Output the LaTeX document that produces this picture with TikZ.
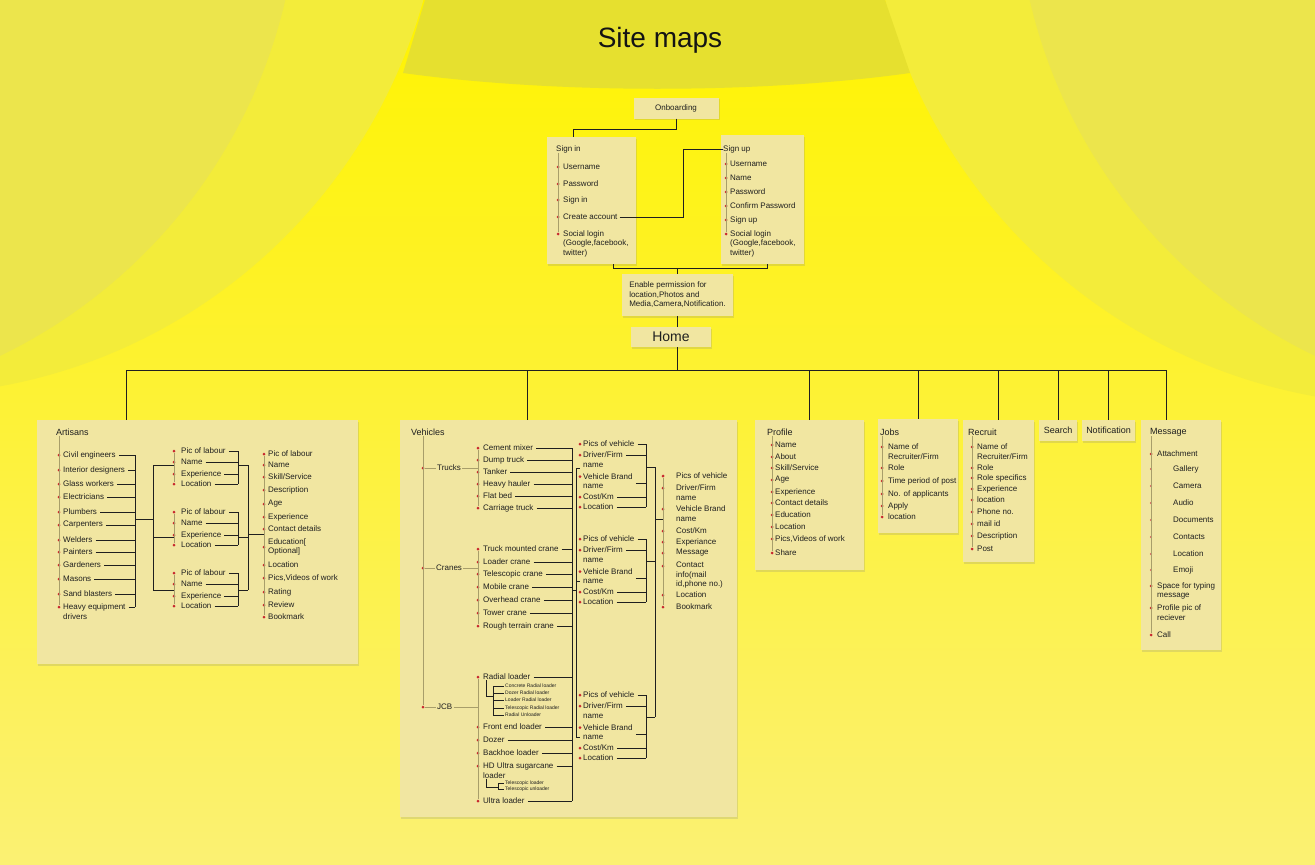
\documentclass[tikz,border=0pt]{standalone}
\usepackage{fontspec}
\setmainfont{Liberation Sans}
\usetikzlibrary{positioning,shadows}
\definecolor{ylwtop}{HTML}{FFF300}
\definecolor{ylwbot}{HTML}{FBF173}
\definecolor{arcout}{HTML}{F3EC3A}
\definecolor{arcin}{HTML}{ECE54C}
\definecolor{banner}{HTML}{E6E02F}
\definecolor{cardc}{HTML}{F1E6A1}
\definecolor{inkc}{HTML}{1F1F1F}
\definecolor{dotc}{HTML}{C8282E}
\definecolor{railc}{HTML}{A89E6A}

\begin{document}
\begin{tikzpicture}[x=1pt, y=-1pt,
    card/.style={fill=cardc, drop shadow={shadow xshift=1pt, shadow yshift=-1.5pt, opacity=.22}, inner sep=0pt, text=inkc},
    itm/.style={font=\fontsize{8}{9.5}\selectfont, text=inkc, inner sep=0pt, anchor=west, align=left},
    tiny/.style={font=\fontsize{5}{6}\selectfont, text=inkc, inner sep=0pt, anchor=west},
    hd/.style={font=\fontsize{9}{11}\selectfont, text=inkc, inner sep=0pt, anchor=west},
    dot/.style={circle, fill=dotc, inner sep=0pt, minimum size=3pt},
    sdot/.style={circle, fill=dotc!80, inner sep=0pt, minimum size=2.2pt},
    link/.style={draw=inkc, line width=0.9pt},
    subl/.style={draw=inkc, line width=0.6pt},
    rail/.style={draw=railc, line width=0.5pt}]

    % background
    \useasboundingbox (0,0) rectangle (1315,865);
    \shade[top color=ylwtop, bottom color=ylwbot] (0,0) rectangle (1315,865);
    \begin{scope}
        \clip (0,0) rectangle (1315,865);
        \fill[arcout] (-97,-145) circle[radius=540pt];
        \fill[arcin] (-229,-120) circle[radius=528pt];
        \fill[arcout] (1412,-140) circle[radius=545pt];
        \fill[arcin] (1544,-120) circle[radius=528pt];
    \end{scope}
    \fill[banner] (425,0) -- (885,0) -- (910,73) .. controls (760,94) and (555,94) .. (403,73) -- cycle;
    \node[font=\fontsize{28}{32}\selectfont, text=black!92] (title) at (660,40) {Site maps};

    % onboarding
    \node[card, minimum width=85pt, minimum height=21pt, font=\fontsize{8}{9.5}\selectfont] (onb) at (676,108) {Onboarding};
    \node[card, anchor=north west, minimum width=89pt, minimum height=127pt] (sin) at (547,137) {};
    \node[card, anchor=north west, minimum width=83pt, minimum height=129pt] (sup) at (721,135) {};
    \node[itm] (sinh) at (556,149) {Sign in};
    \node[itm] (suph) at (723,149) {Sign up};
    \foreach \n/\y/\cy/\txt in {1/167/167/Username, 2/184/184/Password, 3/200/200/Sign in, 4/217/217/Create account,
        5/234/243.5/{Social login\\(Google,facebook,\\twitter)}} {
        \node[dot] (sid\n) at (558,\y) {};
        \node[itm] (si\n) at (563,\cy) {\txt};
    }
    \draw[rail] (sid1 |- sinh.south) -- (sid5);
    \foreach \n/\y/\cy/\txt in {1/164/164/Username, 2/178/178/Name, 3/192/192/Password, 4/206/206/Confirm Password,
        5/220/220/Sign up, 6/234/243.5/{Social login\\(Google,facebook,\\twitter)}} {
        \node[dot] (sud\n) at (726,\y) {};
        \node[itm] (su\n) at (730,\cy) {\txt};
    }
    \draw[rail] (sud1 |- suph.south) -- (sud6);

    \draw[link] (onb.south) -- ++(0,11) -| ([xshift=26pt]sin.north west);
    \coordinate (cj) at (683,149);
    \draw[link] ([xshift=2pt]si4.east) -| (cj) -- (suph.west);

    \node[card, minimum width=111pt, minimum height=42pt, align=left, font=\fontsize{8}{9.5}\selectfont] (perm) at (677.5,295)
        {Enable permission for\\location,Photos and\\Media,Camera,Notification.};
    \draw[link] ([xshift=66pt]sin.south west) -- ++(0,4) -| ([xshift=46pt]sup.south west);
    \draw[link] (perm.north) -- ++(0,-6);

    \node[card, minimum width=80pt, minimum height=20pt, font=\fontsize{14}{16}\selectfont] (home) at (671,337) {Home};
    \draw[link] (perm.south) -- (perm.south |- home.north);
    \coordinate (hbus) at (677.5,370);
    \draw[link] (perm.south |- home.south) -- (hbus);

    % sections
    \node[card, anchor=north west, minimum width=321pt, minimum height=244pt] (artis) at (37,420) {};
    \node[card, anchor=north west, minimum width=337pt, minimum height=397pt] (vehic) at (400,420) {};
    \node[card, anchor=north west, minimum width=109pt, minimum height=150pt] (prof) at (755,420) {};
    \node[card, anchor=north west, minimum width=80pt, minimum height=114pt] (jobs) at (878,419) {};
    \node[card, anchor=north west, minimum width=71pt, minimum height=142pt] (recr) at (963,420) {};
    \node[card, minimum width=38pt, minimum height=21pt, font=\fontsize{9}{11}\selectfont] (srch) at (1058,430.5) {Search};
    \node[card, minimum width=53pt, minimum height=21pt, font=\fontsize{9}{11}\selectfont] (noti) at (1108.5,430.5) {Notification};
    \node[card, anchor=north west, minimum width=80pt, minimum height=230pt] (msg) at (1141,420) {};

    \coordinate (artdrop) at ([xshift=89pt]artis.north west);
    \coordinate (vehdrop) at ([xshift=127pt]vehic.north west);
    \coordinate (msgdrop) at ([xshift=25pt]msg.north west);
    \draw[link] (hbus -| artdrop) -- (hbus -| msgdrop);
    \foreach \drop in {artdrop, vehdrop, prof.north, jobs.north, recr.north, srch.north, noti.north, msgdrop}
        \draw[link] (hbus -| \drop) -- (\drop);

    % artisans
    \node[hd] (arth) at (56,432) {Artisans};
    \coordinate (abus) at (135,455);
    \foreach \n/\y/\cy/\txt in {1/455/455/Civil engineers, 2/470/470/Interior designers, 3/484/484/Glass workers,
        4/497/497/Electricians, 5/512/512/Plumbers, 6/525/525/Carpenters, 7/540/540/Welders, 8/552/552/Painters,
        9/565/565/Gardeners, 10/579/579/Masons, 11/594/594/Sand blasters, 12/607/611.75/{Heavy equipment\\drivers}} {
        \node[dot] (ad\n) at (59,\y) {};
        \node[itm] (ai\n) at (63,\cy) {\txt};
        \draw[link] (ai\n.east |- ad\n) ++(3,0) -- (abus |- ad\n);
    }
    \draw[rail] (ad1 |- arth.south) -- (ad12);
    \draw[link] (abus) -- (abus |- ad12);
    \coordinate (aj) at (153,519);
    \draw[link] (abus |- aj) -- (aj);
    \coordinate (gbr) at (238,451);
    \coordinate (rj) at (248,534);
    \foreach \g/\gy/\by in {1/451/465, 2/512/537, 3/573/590} {
        \foreach \n/\dy/\txt in {1/0/Pic of labour, 2/11/Name, 3/23/Experience, 4/33/Location} {
            \node[dot] (gd\g\n) at (174,\gy+\dy) {};
            \node[itm] (gi\g\n) at (181,\gy+\dy) {\txt};
            \draw[link] (gi\g\n.east) ++(3,0) -- (gbr |- gi\g\n.east);
        }
        \coordinate (gb\g) at (238,\by);
        \draw[rail] (gd\g1) -- (gd\g4);
        \draw[link] (gbr |- gd\g1) -- (gbr |- gd\g4);
        \draw[link] (aj |- gb\g) -- (gd\g1 |- gb\g);
        \draw[link] (gb\g) -- (rj |- gb\g);
    }
    \draw[link] (aj |- gb1) -- (aj |- gb3);
    \draw[link] (rj |- gb1) -- (rj |- gb3);
    \foreach \n/\y/\cy/\txt in {1/454/454/Pic of labour, 2/465/465/Name, 3/477/477/{Skill/Service}, 4/490/490/Description,
        5/504/504/Age, 6/517/517/Experience, 7/529/529/Contact details, 8/547/546.75/{Education[\\Optional]},
        9/565/565/Location, 10/578/578/{Pics,Videos of work}, 11/592/592/Rating, 12/605/605/Review, 13/617/617/Bookmark} {
        \node[dot] (rd\n) at (264,\y) {};
        \node[itm] (ri\n) at (268,\cy) {\txt};
    }
    \draw[rail] (rd1) -- (rd13);
    \draw[link] (rj) -- (rj -| rd1);

    % vehicles
    \node[hd] (vehh) at (411,432) {Vehicles};
    \foreach \n/\y/\x/\txt in {1/468/437/Trucks, 2/568/436/Cranes, 3/707/437/JCB} {
        \node[dot] (vd\n) at (423,\y) {};
        \node[itm] (vc\n) at (\x,\y) {\txt};
        \draw[rail] (vd\n) -- ([xshift=-1pt]vc\n.west);
    }
    \draw[rail] (vd1 |- vehh.south) -- (vd3);
    \coordinate (vbus) at (572,448);
    \foreach \n/\y/\txt in {1/448/Cement mixer, 2/460/Dump truck, 3/472/Tanker, 4/484/Heavy hauler, 5/496/Flat bed,
        6/508/Carriage truck} {
        \node[dot] (td\n) at (478,\y) {};
        \node[itm] (ti\n) at (483,\y) {\txt};
        \draw[link] (ti\n.east) ++(3,0) -- (vbus |- ti\n.east);
    }
    \draw[rail] (td1) -- (td6);
    \draw[rail] (vc1.east) ++(1,0) -- (vc1.east -| td1);
    \foreach \n/\y/\txt in {1/549/Truck mounted crane, 2/562/Loader crane, 3/574/Telescopic crane, 4/587/Mobile crane,
        5/600/Overhead crane, 6/613/Tower crane, 7/626/Rough terrain crane} {
        \node[dot] (cd\n) at (478,\y) {};
        \node[itm] (ci\n) at (483,\y) {\txt};
        \draw[link] (ci\n.east) ++(3,0) -- (vbus |- ci\n.east);
    }
    \draw[rail] (cd1) -- (cd7);
    \draw[rail] (vc2.east) ++(1,0) -- (vc2.east -| cd1);
    \foreach \n/\y/\cy/\txt in {1/677/677/Radial loader, 2/727/727/Front end loader, 3/740/740/Dozer, 4/753/753/Backhoe loader,
        5/766/770.75/{HD Ultra sugarcane\\loader}, 6/801/801/Ultra loader} {
        \node[dot] (jd\n) at (478,\y) {};
        \node[itm] (ji\n) at (483,\cy) {\txt};
        \draw[link] (ji\n.east |- jd\n) ++(3,0) -- (vbus |- jd\n);
    }
    \draw[rail] (jd1) -- (jd6);
    \draw[rail] (vc3.east) ++(1,0) -- (vc3.east -| jd1);
    \draw[link] (vbus) -- (vbus |- jd6);

    \coordinate (rsj) at (493,696);
    \foreach \n/\y/\txt in {1/686/Concrete Radial loader, 2/693/Dozer Radial loader, 3/700/Loader Radial loader,
        4/708/Telescopic Radial loader, 5/715/Radial Unloader} {
        \node[tiny] (rs\n) at (505,\y) {\txt};
        \draw[subl] (rsj |- rs\n) -- ([xshift=-1.5pt]rs\n.west);
    }
    \draw[subl] (rsj |- rs1) -- (rsj |- rs5);
    \draw[subl] ([xshift=3pt]ji1.south west) |- (rsj);
    \coordinate (hsj) at (498,787);
    \foreach \n/\y/\txt in {1/783/Telescopic loader, 2/789/Telescopic unloader} {
        \node[tiny] (hs\n) at (505,\y) {\txt};
        \draw[subl] (hsj |- hs\n) -- ([xshift=-1.5pt]hs\n.west);
    }
    \draw[subl] (hsj |- hs1) -- (hsj |- hs2);
    \draw[subl] ([xshift=3pt]ji5.south west) |- (hsj);

    \coordinate (vbr) at (576,590);
    \draw[link] (vbus |- vbr) -- (vbr);
    \coordinate (pbr) at (646,444);
    \coordinate (pj) at (655,519);
    \foreach \g/\gy/\tk/\my in {1/444/468/467, 2/539/581/561, 3/695/737/717} {
        \foreach \n/\dy/\ty/\cy/\txt in {1/0/0/0/Pics of vehicle, 2/11/11/15.75/{Driver/Firm\\name},
            3/32.5/39/37.25/{Vehicle Brand\\name}, 4/53/53/53/{Cost/Km}, 5/63/63/63/Location} {
            \node[dot] (pd\g\n) at (580,\gy+\dy) {};
            \node[itm] (pi\g\n) at (583,\gy+\cy) {\txt};
            \coordinate (pt\g\n) at (600,\gy+\ty);
            \draw[link] (pi\g\n.east |- pt\g\n) ++(3,0) -- (pbr |- pt\g\n);
        }
        \coordinate (pm\g) at (646,\my);
        \coordinate (pk\g) at (576,\tk);
        \draw[link] (pbr |- pt\g1) -- (pbr |- pt\g5);
        \draw[link] (pm\g) -- (pm\g -| pj);
        \draw[link] (pk\g) -- (pk\g -| pd\g1);
    }
    \draw[link] (pk1) -- (pk3);
    \draw[link] (pj |- pm1) -- (pj |- pm3);
    \foreach \n/\y/\cy/\txt in {1/476/476/Pics of vehicle, 2/488/492.75/{Driver/Firm\\name}, 3/509/513.75/{Vehicle Brand\\name},
        4/531/531/{Cost/Km}, 5/542/542/Experiance, 6/553/553/Message, 7/566/575.5/{Contact\\info(mail\\id,phone no.)},
        8/595/595/Location, 9/607/607/Bookmark} {
        \node[dot] (qd\n) at (663,\y) {};
        \node[itm] (qi\n) at (676,\cy) {\txt};
    }
    \draw[rail] (qd1) -- (qd9);
    \draw[link] (pj) -- (pj -| qd1);

    % profile
    \node[hd] (profh) at (767,432) {Profile};
    \foreach \n/\y/\txt in {1/445/Name, 2/457/About, 3/468/{Skill/Service}, 4/480/Age, 5/492/Experience, 6/503/Contact details,
        7/515/Education, 8/527/Location, 9/539/{Pics,Videos of work}, 10/553/Share} {
        \node[dot] (prd\n) at (772,\y) {};
        \node[itm] (pri\n) at (775,\y) {\txt};
    }
    \draw[rail] (prd1 |- profh.south) -- (prd10);

    % jobs
    \node[hd] (jobh) at (880,432) {Jobs};
    \foreach \n/\y/\cy/\txt in {1/447/451.75/{Name of\\Recruiter/Firm}, 2/468/468/Role, 3/481/481/Time period of post,
        4/494/494/No. of applicants, 5/506/506/Apply, 6/517/517/location} {
        \node[dot] (jbd\n) at (882,\y) {};
        \node[itm] (jbi\n) at (888,\cy) {\txt};
    }
    \draw[rail] (jbd1 |- jobh.south) -- (jbd6);

    % recruit
    \node[hd] (rech) at (968,432) {Recruit};
    \foreach \n/\y/\cy/\txt in {1/447/451.75/{Name of\\Recruiter/Firm}, 2/468/468/Role, 3/478/478/Role specifics,
        4/489/489/Experience, 5/500/500/location, 6/512/512/Phone no., 7/524/524/mail id, 8/536/536/Description, 9/549/549/Post} {
        \node[dot] (rcd\n) at (972,\y) {};
        \node[itm] (rci\n) at (977,\cy) {\txt};
    }
    \draw[rail] (rcd1 |- rech.south) -- (rcd9);

    % message
    \node[hd] (msgh) at (1150,432) {Message};
    \foreach \n/\y/\cy/\x/\dk/\txt in {1/454/454/1157/dot/Attachment, 2/469/469/1173/sdot/Gallery, 3/486/486/1173/sdot/Camera,
        4/503/503/1173/sdot/Audio, 5/520/520/1173/sdot/Documents, 6/537/537/1173/sdot/Contacts, 7/554/554/1173/sdot/Location,
        8/570/570/1173/sdot/Emoji, 9/586/590.75/1157/dot/{Space for typing\\message},
        10/608/612.75/1157/dot/{Profile pic of\\reciever}, 11/635/635/1157/dot/Call} {
        \node[\dk] (md\n) at (1151,\y) {};
        \node[itm] (mi\n) at (\x,\cy) {\txt};
    }
    \draw[rail] (md1 |- msgh.south) -- (md11);
\end{tikzpicture}
\end{document}
